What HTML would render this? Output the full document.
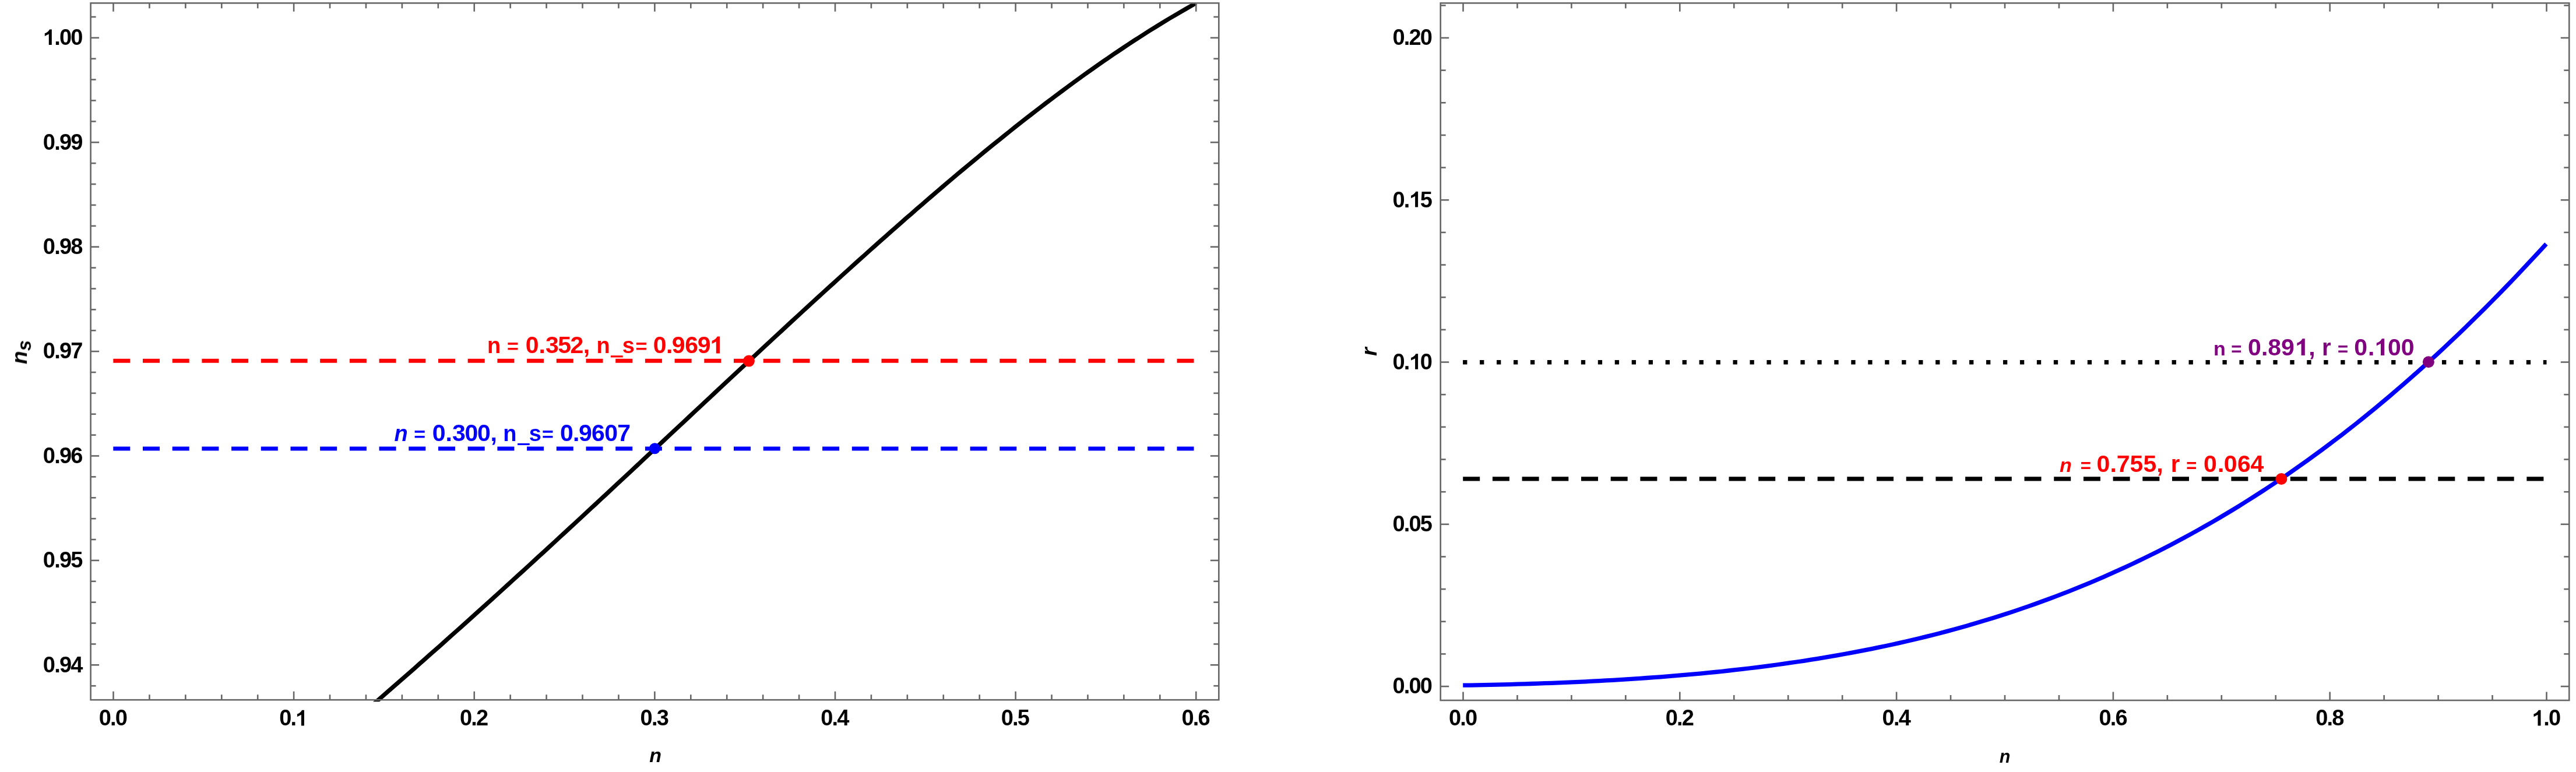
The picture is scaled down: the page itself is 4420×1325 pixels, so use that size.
<!DOCTYPE html>
<html><head><meta charset="utf-8"><style>
html,body{margin:0;padding:0;background:#fff;width:4420px;height:1325px;overflow:hidden;}
svg{display:block;}
</style></head><body>
<svg width="4420" height="1325" viewBox="0 0 4420 1325">
<g font-family="Liberation Sans" font-weight="bold" style="filter:grayscale(0)">
<text x="140.6" y="77.1" text-anchor="end" font-size="38.0" letter-spacing="-1.80" fill="#000">&#x2007;.00</text>
<text x="140.6" y="256.5" text-anchor="end" font-size="38.0" letter-spacing="-1.80" fill="#000">0.99</text>
<text x="140.6" y="435.9" text-anchor="end" font-size="38.0" letter-spacing="-1.80" fill="#000">0.98</text>
<text x="140.6" y="615.3" text-anchor="end" font-size="38.0" letter-spacing="-1.80" fill="#000">0.97</text>
<text x="140.6" y="794.7" text-anchor="end" font-size="38.0" letter-spacing="-1.80" fill="#000">0.96</text>
<text x="140.6" y="974.1" text-anchor="end" font-size="38.0" letter-spacing="-1.80" fill="#000">0.95</text>
<text x="140.6" y="1153.5" text-anchor="end" font-size="38.0" letter-spacing="-1.80" fill="#000">0.94</text>
<text x="193.4" y="1245.4" text-anchor="middle" font-size="38.0" letter-spacing="-1.80" fill="#000">0.0</text>
<text x="503.0" y="1245.4" text-anchor="middle" font-size="38.0" letter-spacing="-1.80" fill="#000">0.&#x2007;</text>
<text x="812.6" y="1245.4" text-anchor="middle" font-size="38.0" letter-spacing="-1.80" fill="#000">0.2</text>
<text x="1122.3" y="1245.4" text-anchor="middle" font-size="38.0" letter-spacing="-1.80" fill="#000">0.3</text>
<text x="1431.9" y="1245.4" text-anchor="middle" font-size="38.0" letter-spacing="-1.80" fill="#000">0.4</text>
<text x="1741.5" y="1245.4" text-anchor="middle" font-size="38.0" letter-spacing="-1.80" fill="#000">0.5</text>
<text x="2051.1" y="1245.4" text-anchor="middle" font-size="38.0" letter-spacing="-1.80" fill="#000">0.6</text>
<text x="2456.2" y="1190.3" text-anchor="end" font-size="38.0" letter-spacing="-1.80" fill="#000">0.00</text>
<text x="2456.2" y="912.0" text-anchor="end" font-size="38.0" letter-spacing="-1.80" fill="#000">0.05</text>
<text x="2456.2" y="633.7" text-anchor="end" font-size="38.0" letter-spacing="-1.80" fill="#000">0.&#x2007;0</text>
<text x="2456.2" y="355.5" text-anchor="end" font-size="38.0" letter-spacing="-1.80" fill="#000">0.&#x2007;5</text>
<text x="2456.2" y="77.2" text-anchor="end" font-size="38.0" letter-spacing="-1.80" fill="#000">0.20</text>
<text x="2509.7" y="1245.4" text-anchor="middle" font-size="38.0" letter-spacing="-1.80" fill="#000">0.0</text>
<text x="2881.5" y="1245.4" text-anchor="middle" font-size="38.0" letter-spacing="-1.80" fill="#000">0.2</text>
<text x="3253.3" y="1245.4" text-anchor="middle" font-size="38.0" letter-spacing="-1.80" fill="#000">0.4</text>
<text x="3625.1" y="1245.4" text-anchor="middle" font-size="38.0" letter-spacing="-1.80" fill="#000">0.6</text>
<text x="3996.9" y="1245.4" text-anchor="middle" font-size="38.0" letter-spacing="-1.80" fill="#000">0.8</text>
<text x="4368.7" y="1245.4" text-anchor="middle" font-size="38.0" letter-spacing="-1.80" fill="#000">&#x2007;.0</text>
<text x="1124.7" y="1307.7" text-anchor="middle" font-size="34" font-style="italic">n</text>
<text x="3440" y="1308.8" text-anchor="middle" font-size="30.5" font-style="italic">n</text>
<text transform="translate(46.1,604.5) rotate(-90)" text-anchor="middle" font-size="37" font-style="italic">n<tspan font-size="33" dy="7.4">s</tspan></text>
<text transform="translate(2362.4,603.7) rotate(-90)" text-anchor="middle" font-size="37.5" font-style="italic">r</text>
<text y="606.4" fill="#ff0000"><tspan x="836.0" font-size="38.0">n</tspan><tspan x="870.1" font-size="34.0">=</tspan><tspan x="901.8 924.6 935.9 957.3 978.5 1000.8" font-size="41.0">0.352,</tspan><tspan x="1023.5" font-size="38.0">n&#x2007;s</tspan><tspan x="1090.5" font-size="34.0">=</tspan><tspan x="1120.8 1143.0 1152.8 1175.2 1196.8 1217.3" font-size="41.0">0.969&#x2007;</tspan></text>
<text y="757.0" fill="#0000ff"><tspan x="676.4" font-size="38.0" font-style="italic">n</tspan><tspan x="710.2" font-size="34.0">=</tspan><tspan x="741.8 764.4 776.0 797.4 819.1 841.4" font-size="41.0">0.300,</tspan><tspan x="863.3" font-size="38.0">n&#x2007;s</tspan><tspan x="929.9" font-size="34.0">=</tspan><tspan x="961.1 982.9 993.1 1014.9 1037.3 1059.3" font-size="41.0">0.9607</tspan></text>
<text y="610.0" fill="#800080"><tspan x="3798.1" font-size="34.0">n</tspan><tspan x="3828.2" font-size="31.0">=</tspan><tspan x="3857.1" font-size="41.0">0</tspan><tspan font-size="41.0">.89&#x2007;</tspan><tspan x="3936.1 3961.3" font-size="41.0">&#x2007;,</tspan><tspan x="3983.9" font-size="40.0">r</tspan><tspan x="4010.9" font-size="31.0">=</tspan><tspan x="4039.3 4063.1 4072.5 4096.9 4119.8" font-size="41.0">0.&#x2007;00</tspan></text>
<text y="810.0" fill="#ff0000"><tspan x="3534.1" font-size="34.0" font-style="italic">n</tspan><tspan x="3569.8" font-size="31.0">=</tspan><tspan x="3597.6" font-size="41.0">0.755,</tspan><tspan x="3724.7" font-size="40.0">r</tspan><tspan x="3751.3" font-size="31.0">=</tspan><tspan x="3780.9 3805.0 3815.8 3838.9 3861.5" font-size="41.0">0.064</tspan></text>
</g>
<path d="M88.80 50.50 L88.80 77.10 L83.80 77.10 L83.80 58.48 L76.80 61.94 L76.80 57.28 Q82.20 55.82 85.08 50.50 Z" fill="#000"/>
<path d="M521.90 1218.80 L521.90 1245.40 L516.90 1245.40 L516.90 1226.78 L509.90 1230.24 L509.90 1225.58 Q515.30 1224.12 518.18 1218.80 Z" fill="#000"/>
<path d="M4359.50 1218.80 L4359.50 1245.40 L4354.50 1245.40 L4354.50 1226.78 L4347.50 1230.24 L4347.50 1225.58 Q4352.90 1224.12 4355.78 1218.80 Z" fill="#000"/>
<path d="M2433.10 607.15 L2433.10 633.75 L2428.10 633.75 L2428.10 615.13 L2421.10 618.59 L2421.10 613.93 Q2426.50 612.47 2429.38 607.15 Z" fill="#000"/>
<path d="M2433.10 328.87 L2433.10 355.47 L2428.10 355.47 L2428.10 336.85 L2421.10 340.31 L2421.10 335.66 Q2426.50 334.19 2429.38 328.87 Z" fill="#000"/>
<path d="M1235.00 577.60 L1235.00 606.40 L1228.80 606.40 L1228.80 586.24 L1221.60 589.98 L1221.60 584.94 Q1227.63 583.36 1230.85 577.60 Z" fill="#ff0000"/>
<path d="M3954.80 581.20 L3954.80 610.00 L3948.60 610.00 L3948.60 589.84 L3941.40 593.58 L3941.40 588.54 Q3947.43 586.96 3950.65 581.20 Z" fill="#800080"/>
<path d="M4091.20 581.20 L4091.20 610.00 L4085.00 610.00 L4085.00 589.84 L4077.80 593.58 L4077.80 588.54 Q4083.83 586.96 4087.05 581.20 Z" fill="#800080"/>
<rect x="1047.9" y="610.2" width="20.8" height="3.2" fill="#ff0000"/>
<rect x="888.1" y="760.8" width="20.6" height="3.2" fill="#0000ff"/>
<defs><clipPath id="clipL"><rect x="155.6" y="5.3" width="1935.7" height="1198.9"/></clipPath></defs>
<g>
<line x1="194.3" y1="619.3" x2="2052.2" y2="619.3" stroke="#ff0000" stroke-width="7" stroke-dasharray="29 21.7"/>
<line x1="194.3" y1="770.0" x2="2052.2" y2="770.0" stroke="#0000ff" stroke-width="7" stroke-dasharray="29 21.7"/>
<path d="M640.0 1209.2 L648.9 1201.5 L657.8 1193.8 L666.6 1186.1 L675.5 1178.3 L684.4 1170.5 L693.3 1162.8 L702.2 1155.0 L711.1 1147.2 L719.9 1139.3 L728.8 1131.5 L737.7 1123.6 L746.6 1115.8 L755.5 1107.9 L764.3 1100.0 L773.2 1092.1 L782.1 1084.1 L791.0 1076.2 L799.9 1068.2 L808.8 1060.2 L817.6 1052.2 L826.5 1044.2 L835.4 1036.2 L844.3 1028.2 L853.2 1020.1 L862.0 1012.1 L870.9 1004.0 L879.8 995.9 L888.7 987.8 L897.6 979.7 L906.5 971.6 L915.3 963.5 L924.2 955.3 L933.1 947.2 L942.0 939.0 L950.9 930.9 L959.7 922.7 L968.6 914.5 L977.5 906.3 L986.4 898.1 L995.3 889.9 L1004.2 881.6 L1013.0 873.4 L1021.9 865.2 L1030.8 856.9 L1039.7 848.7 L1048.6 840.4 L1057.4 832.1 L1066.3 823.9 L1075.2 815.6 L1084.1 807.3 L1093.0 799.0 L1101.9 790.7 L1110.7 782.4 L1119.6 774.1 L1128.5 765.8 L1137.4 757.5 L1146.3 749.2 L1155.1 740.9 L1164.0 732.6 L1172.9 724.3 L1181.8 716.0 L1190.7 707.7 L1199.6 699.4 L1208.4 691.1 L1217.3 682.8 L1226.2 674.5 L1235.1 666.2 L1244.0 657.9 L1252.8 649.7 L1261.7 641.4 L1270.6 633.1 L1279.5 624.8 L1288.4 616.6 L1297.3 608.3 L1306.1 600.1 L1315.0 591.8 L1323.9 583.6 L1332.8 575.4 L1341.7 567.2 L1350.5 559.0 L1359.4 550.8 L1368.3 542.6 L1377.2 534.4 L1386.1 526.3 L1394.9 518.1 L1403.8 510.0 L1412.7 501.9 L1421.6 493.8 L1430.5 485.7 L1439.4 477.6 L1448.2 469.6 L1457.1 461.6 L1466.0 453.5 L1474.9 445.6 L1483.8 437.6 L1492.6 429.6 L1501.5 421.7 L1510.4 413.8 L1519.3 405.9 L1528.2 398.0 L1537.1 390.2 L1545.9 382.4 L1554.8 374.6 L1563.7 366.9 L1572.6 359.1 L1581.5 351.4 L1590.3 343.7 L1599.2 336.1 L1608.1 328.5 L1617.0 320.9 L1625.9 313.3 L1634.8 305.8 L1643.6 298.3 L1652.5 290.9 L1661.4 283.5 L1670.3 276.1 L1679.2 268.7 L1688.0 261.4 L1696.9 254.2 L1705.8 246.9 L1714.7 239.8 L1723.6 232.6 L1732.5 225.5 L1741.3 218.4 L1750.2 211.4 L1759.1 204.4 L1768.0 197.5 L1776.9 190.6 L1785.7 183.8 L1794.6 177.0 L1803.5 170.3 L1812.4 163.6 L1821.3 157.0 L1830.2 150.4 L1839.0 143.8 L1847.9 137.4 L1856.8 130.9 L1865.7 124.6 L1874.6 118.2 L1883.4 112.0 L1892.3 105.8 L1901.2 99.7 L1910.1 93.6 L1919.0 87.6 L1927.9 81.6 L1936.7 75.7 L1945.6 69.9 L1954.5 64.2 L1963.4 58.5 L1972.3 52.8 L1981.1 47.3 L1990.0 41.8 L1998.9 36.4 L2007.8 31.0 L2016.7 25.8 L2025.6 20.6 L2034.4 15.5 L2043.3 10.4 L2052.2 5.4" fill="none" stroke="#000" stroke-width="7.3" clip-path="url(#clipL)"/>
<circle cx="1284.9" cy="619.6" r="10" fill="#ff0000"/>
<circle cx="1123.5" cy="769.8" r="9.5" fill="#0000ff"/>
<line x1="2510.1" y1="621.75" x2="4369.5" y2="621.75" stroke="#000" stroke-width="7.3" stroke-dasharray="7.3 21.664"/>
<line x1="2510.2" y1="821.8" x2="4369.5" y2="821.8" stroke="#000" stroke-width="7.3" stroke-dasharray="29 21.7"/>
<path d="M2510.2 1176.2 L2521.9 1176.1 L2533.6 1175.9 L2545.3 1175.6 L2557.0 1175.4 L2568.6 1175.1 L2580.3 1174.9 L2592.0 1174.6 L2603.7 1174.2 L2615.4 1173.9 L2627.1 1173.5 L2638.8 1173.1 L2650.5 1172.7 L2662.2 1172.3 L2673.9 1171.8 L2685.5 1171.4 L2697.2 1170.9 L2708.9 1170.3 L2720.6 1169.8 L2732.3 1169.2 L2744.0 1168.6 L2755.7 1167.9 L2767.4 1167.3 L2779.1 1166.6 L2790.8 1165.9 L2802.4 1165.1 L2814.1 1164.3 L2825.8 1163.5 L2837.5 1162.7 L2849.2 1161.8 L2860.9 1160.9 L2872.6 1159.9 L2884.3 1158.9 L2896.0 1157.9 L2907.7 1156.9 L2919.3 1155.8 L2931.0 1154.6 L2942.7 1153.5 L2954.4 1152.3 L2966.1 1151.0 L2977.8 1149.7 L2989.5 1148.4 L3001.2 1147.0 L3012.9 1145.6 L3024.6 1144.1 L3036.2 1142.6 L3047.9 1141.0 L3059.6 1139.4 L3071.3 1137.7 L3083.0 1136.0 L3094.7 1134.3 L3106.4 1132.4 L3118.1 1130.6 L3129.8 1128.6 L3141.5 1126.7 L3153.1 1124.6 L3164.8 1122.5 L3176.5 1120.4 L3188.2 1118.2 L3199.9 1115.9 L3211.6 1113.6 L3223.3 1111.2 L3235.0 1108.7 L3246.7 1106.2 L3258.4 1103.6 L3270.0 1101.0 L3281.7 1098.2 L3293.4 1095.5 L3305.1 1092.6 L3316.8 1089.7 L3328.5 1086.7 L3340.2 1083.6 L3351.9 1080.4 L3363.6 1077.2 L3375.3 1073.9 L3386.9 1070.5 L3398.6 1067.1 L3410.3 1063.5 L3422.0 1059.9 L3433.7 1056.2 L3445.4 1052.5 L3457.1 1048.6 L3468.8 1044.6 L3480.5 1040.6 L3492.2 1036.5 L3503.8 1032.3 L3515.5 1028.0 L3527.2 1023.6 L3538.9 1019.1 L3550.6 1014.6 L3562.3 1009.9 L3574.0 1005.2 L3585.7 1000.3 L3597.4 995.4 L3609.1 990.3 L3620.7 985.2 L3632.4 979.9 L3644.1 974.6 L3655.8 969.2 L3667.5 963.6 L3679.2 958.0 L3690.9 952.3 L3702.6 946.4 L3714.3 940.5 L3726.0 934.4 L3737.6 928.2 L3749.3 922.0 L3761.0 915.6 L3772.7 909.1 L3784.4 902.5 L3796.1 895.8 L3807.8 889.0 L3819.5 882.0 L3831.2 875.0 L3842.9 867.8 L3854.5 860.5 L3866.2 853.2 L3877.9 845.6 L3889.6 838.0 L3901.3 830.3 L3913.0 822.4 L3924.7 814.4 L3936.4 806.3 L3948.1 798.1 L3959.8 789.8 L3971.4 781.3 L3983.1 772.7 L3994.8 764.0 L4006.5 755.2 L4018.2 746.3 L4029.9 737.2 L4041.6 728.0 L4053.3 718.6 L4065.0 709.2 L4076.7 699.6 L4088.3 689.9 L4100.0 680.1 L4111.7 670.1 L4123.4 660.1 L4135.1 649.8 L4146.8 639.5 L4158.5 629.0 L4170.2 618.4 L4181.9 607.7 L4193.6 596.9 L4205.2 585.9 L4216.9 574.8 L4228.6 563.6 L4240.3 552.2 L4252.0 540.7 L4263.7 529.1 L4275.4 517.3 L4287.1 505.4 L4298.8 493.4 L4310.5 481.3 L4322.1 469.0 L4333.8 456.6 L4345.5 444.1 L4357.2 431.5 L4368.9 418.7" fill="none" stroke="#0000ff" stroke-width="7.3"/>
<circle cx="3914.4" cy="822.0" r="10" fill="#ff0000"/>
<circle cx="4166.9" cy="621.3" r="10" fill="#800080"/>
</g>
<g>
<line x1="194.50" y1="1201.20" x2="194.50" y2="1186.70" stroke="#666666" stroke-width="2.60"/>
<line x1="194.50" y1="5.30" x2="194.50" y2="19.80" stroke="#666666" stroke-width="2.60"/>
<line x1="256.42" y1="1201.20" x2="256.42" y2="1192.20" stroke="#666666" stroke-width="2.60"/>
<line x1="256.42" y1="5.30" x2="256.42" y2="14.30" stroke="#666666" stroke-width="2.60"/>
<line x1="318.35" y1="1201.20" x2="318.35" y2="1192.20" stroke="#666666" stroke-width="2.60"/>
<line x1="318.35" y1="5.30" x2="318.35" y2="14.30" stroke="#666666" stroke-width="2.60"/>
<line x1="380.27" y1="1201.20" x2="380.27" y2="1192.20" stroke="#666666" stroke-width="2.60"/>
<line x1="380.27" y1="5.30" x2="380.27" y2="14.30" stroke="#666666" stroke-width="2.60"/>
<line x1="442.20" y1="1201.20" x2="442.20" y2="1192.20" stroke="#666666" stroke-width="2.60"/>
<line x1="442.20" y1="5.30" x2="442.20" y2="14.30" stroke="#666666" stroke-width="2.60"/>
<line x1="504.12" y1="1201.20" x2="504.12" y2="1186.70" stroke="#666666" stroke-width="2.60"/>
<line x1="504.12" y1="5.30" x2="504.12" y2="19.80" stroke="#666666" stroke-width="2.60"/>
<line x1="566.04" y1="1201.20" x2="566.04" y2="1192.20" stroke="#666666" stroke-width="2.60"/>
<line x1="566.04" y1="5.30" x2="566.04" y2="14.30" stroke="#666666" stroke-width="2.60"/>
<line x1="627.97" y1="1201.20" x2="627.97" y2="1192.20" stroke="#666666" stroke-width="2.60"/>
<line x1="627.97" y1="5.30" x2="627.97" y2="14.30" stroke="#666666" stroke-width="2.60"/>
<line x1="689.89" y1="1201.20" x2="689.89" y2="1192.20" stroke="#666666" stroke-width="2.60"/>
<line x1="689.89" y1="5.30" x2="689.89" y2="14.30" stroke="#666666" stroke-width="2.60"/>
<line x1="751.82" y1="1201.20" x2="751.82" y2="1192.20" stroke="#666666" stroke-width="2.60"/>
<line x1="751.82" y1="5.30" x2="751.82" y2="14.30" stroke="#666666" stroke-width="2.60"/>
<line x1="813.74" y1="1201.20" x2="813.74" y2="1186.70" stroke="#666666" stroke-width="2.60"/>
<line x1="813.74" y1="5.30" x2="813.74" y2="19.80" stroke="#666666" stroke-width="2.60"/>
<line x1="875.66" y1="1201.20" x2="875.66" y2="1192.20" stroke="#666666" stroke-width="2.60"/>
<line x1="875.66" y1="5.30" x2="875.66" y2="14.30" stroke="#666666" stroke-width="2.60"/>
<line x1="937.59" y1="1201.20" x2="937.59" y2="1192.20" stroke="#666666" stroke-width="2.60"/>
<line x1="937.59" y1="5.30" x2="937.59" y2="14.30" stroke="#666666" stroke-width="2.60"/>
<line x1="999.51" y1="1201.20" x2="999.51" y2="1192.20" stroke="#666666" stroke-width="2.60"/>
<line x1="999.51" y1="5.30" x2="999.51" y2="14.30" stroke="#666666" stroke-width="2.60"/>
<line x1="1061.44" y1="1201.20" x2="1061.44" y2="1192.20" stroke="#666666" stroke-width="2.60"/>
<line x1="1061.44" y1="5.30" x2="1061.44" y2="14.30" stroke="#666666" stroke-width="2.60"/>
<line x1="1123.36" y1="1201.20" x2="1123.36" y2="1186.70" stroke="#666666" stroke-width="2.60"/>
<line x1="1123.36" y1="5.30" x2="1123.36" y2="19.80" stroke="#666666" stroke-width="2.60"/>
<line x1="1185.28" y1="1201.20" x2="1185.28" y2="1192.20" stroke="#666666" stroke-width="2.60"/>
<line x1="1185.28" y1="5.30" x2="1185.28" y2="14.30" stroke="#666666" stroke-width="2.60"/>
<line x1="1247.21" y1="1201.20" x2="1247.21" y2="1192.20" stroke="#666666" stroke-width="2.60"/>
<line x1="1247.21" y1="5.30" x2="1247.21" y2="14.30" stroke="#666666" stroke-width="2.60"/>
<line x1="1309.13" y1="1201.20" x2="1309.13" y2="1192.20" stroke="#666666" stroke-width="2.60"/>
<line x1="1309.13" y1="5.30" x2="1309.13" y2="14.30" stroke="#666666" stroke-width="2.60"/>
<line x1="1371.06" y1="1201.20" x2="1371.06" y2="1192.20" stroke="#666666" stroke-width="2.60"/>
<line x1="1371.06" y1="5.30" x2="1371.06" y2="14.30" stroke="#666666" stroke-width="2.60"/>
<line x1="1432.98" y1="1201.20" x2="1432.98" y2="1186.70" stroke="#666666" stroke-width="2.60"/>
<line x1="1432.98" y1="5.30" x2="1432.98" y2="19.80" stroke="#666666" stroke-width="2.60"/>
<line x1="1494.90" y1="1201.20" x2="1494.90" y2="1192.20" stroke="#666666" stroke-width="2.60"/>
<line x1="1494.90" y1="5.30" x2="1494.90" y2="14.30" stroke="#666666" stroke-width="2.60"/>
<line x1="1556.83" y1="1201.20" x2="1556.83" y2="1192.20" stroke="#666666" stroke-width="2.60"/>
<line x1="1556.83" y1="5.30" x2="1556.83" y2="14.30" stroke="#666666" stroke-width="2.60"/>
<line x1="1618.75" y1="1201.20" x2="1618.75" y2="1192.20" stroke="#666666" stroke-width="2.60"/>
<line x1="1618.75" y1="5.30" x2="1618.75" y2="14.30" stroke="#666666" stroke-width="2.60"/>
<line x1="1680.68" y1="1201.20" x2="1680.68" y2="1192.20" stroke="#666666" stroke-width="2.60"/>
<line x1="1680.68" y1="5.30" x2="1680.68" y2="14.30" stroke="#666666" stroke-width="2.60"/>
<line x1="1742.60" y1="1201.20" x2="1742.60" y2="1186.70" stroke="#666666" stroke-width="2.60"/>
<line x1="1742.60" y1="5.30" x2="1742.60" y2="19.80" stroke="#666666" stroke-width="2.60"/>
<line x1="1804.52" y1="1201.20" x2="1804.52" y2="1192.20" stroke="#666666" stroke-width="2.60"/>
<line x1="1804.52" y1="5.30" x2="1804.52" y2="14.30" stroke="#666666" stroke-width="2.60"/>
<line x1="1866.45" y1="1201.20" x2="1866.45" y2="1192.20" stroke="#666666" stroke-width="2.60"/>
<line x1="1866.45" y1="5.30" x2="1866.45" y2="14.30" stroke="#666666" stroke-width="2.60"/>
<line x1="1928.37" y1="1201.20" x2="1928.37" y2="1192.20" stroke="#666666" stroke-width="2.60"/>
<line x1="1928.37" y1="5.30" x2="1928.37" y2="14.30" stroke="#666666" stroke-width="2.60"/>
<line x1="1990.30" y1="1201.20" x2="1990.30" y2="1192.20" stroke="#666666" stroke-width="2.60"/>
<line x1="1990.30" y1="5.30" x2="1990.30" y2="14.30" stroke="#666666" stroke-width="2.60"/>
<line x1="2052.22" y1="1201.20" x2="2052.22" y2="1186.70" stroke="#666666" stroke-width="2.60"/>
<line x1="2052.22" y1="5.30" x2="2052.22" y2="19.80" stroke="#666666" stroke-width="2.60"/>
<line x1="155.60" y1="1177.18" x2="164.60" y2="1177.18" stroke="#666666" stroke-width="2.60"/>
<line x1="2091.30" y1="1177.18" x2="2082.30" y2="1177.18" stroke="#666666" stroke-width="2.60"/>
<line x1="155.60" y1="1141.30" x2="170.10" y2="1141.30" stroke="#666666" stroke-width="2.60"/>
<line x1="2091.30" y1="1141.30" x2="2076.80" y2="1141.30" stroke="#666666" stroke-width="2.60"/>
<line x1="155.60" y1="1105.42" x2="164.60" y2="1105.42" stroke="#666666" stroke-width="2.60"/>
<line x1="2091.30" y1="1105.42" x2="2082.30" y2="1105.42" stroke="#666666" stroke-width="2.60"/>
<line x1="155.60" y1="1069.54" x2="164.60" y2="1069.54" stroke="#666666" stroke-width="2.60"/>
<line x1="2091.30" y1="1069.54" x2="2082.30" y2="1069.54" stroke="#666666" stroke-width="2.60"/>
<line x1="155.60" y1="1033.66" x2="164.60" y2="1033.66" stroke="#666666" stroke-width="2.60"/>
<line x1="2091.30" y1="1033.66" x2="2082.30" y2="1033.66" stroke="#666666" stroke-width="2.60"/>
<line x1="155.60" y1="997.78" x2="164.60" y2="997.78" stroke="#666666" stroke-width="2.60"/>
<line x1="2091.30" y1="997.78" x2="2082.30" y2="997.78" stroke="#666666" stroke-width="2.60"/>
<line x1="155.60" y1="961.90" x2="170.10" y2="961.90" stroke="#666666" stroke-width="2.60"/>
<line x1="2091.30" y1="961.90" x2="2076.80" y2="961.90" stroke="#666666" stroke-width="2.60"/>
<line x1="155.60" y1="926.02" x2="164.60" y2="926.02" stroke="#666666" stroke-width="2.60"/>
<line x1="2091.30" y1="926.02" x2="2082.30" y2="926.02" stroke="#666666" stroke-width="2.60"/>
<line x1="155.60" y1="890.14" x2="164.60" y2="890.14" stroke="#666666" stroke-width="2.60"/>
<line x1="2091.30" y1="890.14" x2="2082.30" y2="890.14" stroke="#666666" stroke-width="2.60"/>
<line x1="155.60" y1="854.26" x2="164.60" y2="854.26" stroke="#666666" stroke-width="2.60"/>
<line x1="2091.30" y1="854.26" x2="2082.30" y2="854.26" stroke="#666666" stroke-width="2.60"/>
<line x1="155.60" y1="818.38" x2="164.60" y2="818.38" stroke="#666666" stroke-width="2.60"/>
<line x1="2091.30" y1="818.38" x2="2082.30" y2="818.38" stroke="#666666" stroke-width="2.60"/>
<line x1="155.60" y1="782.50" x2="170.10" y2="782.50" stroke="#666666" stroke-width="2.60"/>
<line x1="2091.30" y1="782.50" x2="2076.80" y2="782.50" stroke="#666666" stroke-width="2.60"/>
<line x1="155.60" y1="746.62" x2="164.60" y2="746.62" stroke="#666666" stroke-width="2.60"/>
<line x1="2091.30" y1="746.62" x2="2082.30" y2="746.62" stroke="#666666" stroke-width="2.60"/>
<line x1="155.60" y1="710.74" x2="164.60" y2="710.74" stroke="#666666" stroke-width="2.60"/>
<line x1="2091.30" y1="710.74" x2="2082.30" y2="710.74" stroke="#666666" stroke-width="2.60"/>
<line x1="155.60" y1="674.86" x2="164.60" y2="674.86" stroke="#666666" stroke-width="2.60"/>
<line x1="2091.30" y1="674.86" x2="2082.30" y2="674.86" stroke="#666666" stroke-width="2.60"/>
<line x1="155.60" y1="638.98" x2="164.60" y2="638.98" stroke="#666666" stroke-width="2.60"/>
<line x1="2091.30" y1="638.98" x2="2082.30" y2="638.98" stroke="#666666" stroke-width="2.60"/>
<line x1="155.60" y1="603.10" x2="170.10" y2="603.10" stroke="#666666" stroke-width="2.60"/>
<line x1="2091.30" y1="603.10" x2="2076.80" y2="603.10" stroke="#666666" stroke-width="2.60"/>
<line x1="155.60" y1="567.22" x2="164.60" y2="567.22" stroke="#666666" stroke-width="2.60"/>
<line x1="2091.30" y1="567.22" x2="2082.30" y2="567.22" stroke="#666666" stroke-width="2.60"/>
<line x1="155.60" y1="531.34" x2="164.60" y2="531.34" stroke="#666666" stroke-width="2.60"/>
<line x1="2091.30" y1="531.34" x2="2082.30" y2="531.34" stroke="#666666" stroke-width="2.60"/>
<line x1="155.60" y1="495.46" x2="164.60" y2="495.46" stroke="#666666" stroke-width="2.60"/>
<line x1="2091.30" y1="495.46" x2="2082.30" y2="495.46" stroke="#666666" stroke-width="2.60"/>
<line x1="155.60" y1="459.58" x2="164.60" y2="459.58" stroke="#666666" stroke-width="2.60"/>
<line x1="2091.30" y1="459.58" x2="2082.30" y2="459.58" stroke="#666666" stroke-width="2.60"/>
<line x1="155.60" y1="423.70" x2="170.10" y2="423.70" stroke="#666666" stroke-width="2.60"/>
<line x1="2091.30" y1="423.70" x2="2076.80" y2="423.70" stroke="#666666" stroke-width="2.60"/>
<line x1="155.60" y1="387.82" x2="164.60" y2="387.82" stroke="#666666" stroke-width="2.60"/>
<line x1="2091.30" y1="387.82" x2="2082.30" y2="387.82" stroke="#666666" stroke-width="2.60"/>
<line x1="155.60" y1="351.94" x2="164.60" y2="351.94" stroke="#666666" stroke-width="2.60"/>
<line x1="2091.30" y1="351.94" x2="2082.30" y2="351.94" stroke="#666666" stroke-width="2.60"/>
<line x1="155.60" y1="316.06" x2="164.60" y2="316.06" stroke="#666666" stroke-width="2.60"/>
<line x1="2091.30" y1="316.06" x2="2082.30" y2="316.06" stroke="#666666" stroke-width="2.60"/>
<line x1="155.60" y1="280.18" x2="164.60" y2="280.18" stroke="#666666" stroke-width="2.60"/>
<line x1="2091.30" y1="280.18" x2="2082.30" y2="280.18" stroke="#666666" stroke-width="2.60"/>
<line x1="155.60" y1="244.30" x2="170.10" y2="244.30" stroke="#666666" stroke-width="2.60"/>
<line x1="2091.30" y1="244.30" x2="2076.80" y2="244.30" stroke="#666666" stroke-width="2.60"/>
<line x1="155.60" y1="208.42" x2="164.60" y2="208.42" stroke="#666666" stroke-width="2.60"/>
<line x1="2091.30" y1="208.42" x2="2082.30" y2="208.42" stroke="#666666" stroke-width="2.60"/>
<line x1="155.60" y1="172.54" x2="164.60" y2="172.54" stroke="#666666" stroke-width="2.60"/>
<line x1="2091.30" y1="172.54" x2="2082.30" y2="172.54" stroke="#666666" stroke-width="2.60"/>
<line x1="155.60" y1="136.66" x2="164.60" y2="136.66" stroke="#666666" stroke-width="2.60"/>
<line x1="2091.30" y1="136.66" x2="2082.30" y2="136.66" stroke="#666666" stroke-width="2.60"/>
<line x1="155.60" y1="100.78" x2="164.60" y2="100.78" stroke="#666666" stroke-width="2.60"/>
<line x1="2091.30" y1="100.78" x2="2082.30" y2="100.78" stroke="#666666" stroke-width="2.60"/>
<line x1="155.60" y1="64.90" x2="170.10" y2="64.90" stroke="#666666" stroke-width="2.60"/>
<line x1="2091.30" y1="64.90" x2="2076.80" y2="64.90" stroke="#666666" stroke-width="2.60"/>
<line x1="155.60" y1="29.02" x2="164.60" y2="29.02" stroke="#666666" stroke-width="2.60"/>
<line x1="2091.30" y1="29.02" x2="2082.30" y2="29.02" stroke="#666666" stroke-width="2.60"/>
<rect x="155.60" y="5.30" width="1935.70" height="1195.90" fill="none" stroke="#666666" stroke-width="2.60"/>
<line x1="2510.50" y1="1202.00" x2="2510.50" y2="1187.50" stroke="#666666" stroke-width="2.60"/>
<line x1="2510.50" y1="5.30" x2="2510.50" y2="19.80" stroke="#666666" stroke-width="2.60"/>
<line x1="2603.45" y1="1202.00" x2="2603.45" y2="1193.00" stroke="#666666" stroke-width="2.60"/>
<line x1="2603.45" y1="5.30" x2="2603.45" y2="14.30" stroke="#666666" stroke-width="2.60"/>
<line x1="2696.40" y1="1202.00" x2="2696.40" y2="1193.00" stroke="#666666" stroke-width="2.60"/>
<line x1="2696.40" y1="5.30" x2="2696.40" y2="14.30" stroke="#666666" stroke-width="2.60"/>
<line x1="2789.35" y1="1202.00" x2="2789.35" y2="1193.00" stroke="#666666" stroke-width="2.60"/>
<line x1="2789.35" y1="5.30" x2="2789.35" y2="14.30" stroke="#666666" stroke-width="2.60"/>
<line x1="2882.30" y1="1202.00" x2="2882.30" y2="1187.50" stroke="#666666" stroke-width="2.60"/>
<line x1="2882.30" y1="5.30" x2="2882.30" y2="19.80" stroke="#666666" stroke-width="2.60"/>
<line x1="2975.25" y1="1202.00" x2="2975.25" y2="1193.00" stroke="#666666" stroke-width="2.60"/>
<line x1="2975.25" y1="5.30" x2="2975.25" y2="14.30" stroke="#666666" stroke-width="2.60"/>
<line x1="3068.20" y1="1202.00" x2="3068.20" y2="1193.00" stroke="#666666" stroke-width="2.60"/>
<line x1="3068.20" y1="5.30" x2="3068.20" y2="14.30" stroke="#666666" stroke-width="2.60"/>
<line x1="3161.15" y1="1202.00" x2="3161.15" y2="1193.00" stroke="#666666" stroke-width="2.60"/>
<line x1="3161.15" y1="5.30" x2="3161.15" y2="14.30" stroke="#666666" stroke-width="2.60"/>
<line x1="3254.10" y1="1202.00" x2="3254.10" y2="1187.50" stroke="#666666" stroke-width="2.60"/>
<line x1="3254.10" y1="5.30" x2="3254.10" y2="19.80" stroke="#666666" stroke-width="2.60"/>
<line x1="3347.05" y1="1202.00" x2="3347.05" y2="1193.00" stroke="#666666" stroke-width="2.60"/>
<line x1="3347.05" y1="5.30" x2="3347.05" y2="14.30" stroke="#666666" stroke-width="2.60"/>
<line x1="3440.00" y1="1202.00" x2="3440.00" y2="1193.00" stroke="#666666" stroke-width="2.60"/>
<line x1="3440.00" y1="5.30" x2="3440.00" y2="14.30" stroke="#666666" stroke-width="2.60"/>
<line x1="3532.95" y1="1202.00" x2="3532.95" y2="1193.00" stroke="#666666" stroke-width="2.60"/>
<line x1="3532.95" y1="5.30" x2="3532.95" y2="14.30" stroke="#666666" stroke-width="2.60"/>
<line x1="3625.90" y1="1202.00" x2="3625.90" y2="1187.50" stroke="#666666" stroke-width="2.60"/>
<line x1="3625.90" y1="5.30" x2="3625.90" y2="19.80" stroke="#666666" stroke-width="2.60"/>
<line x1="3718.85" y1="1202.00" x2="3718.85" y2="1193.00" stroke="#666666" stroke-width="2.60"/>
<line x1="3718.85" y1="5.30" x2="3718.85" y2="14.30" stroke="#666666" stroke-width="2.60"/>
<line x1="3811.80" y1="1202.00" x2="3811.80" y2="1193.00" stroke="#666666" stroke-width="2.60"/>
<line x1="3811.80" y1="5.30" x2="3811.80" y2="14.30" stroke="#666666" stroke-width="2.60"/>
<line x1="3904.75" y1="1202.00" x2="3904.75" y2="1193.00" stroke="#666666" stroke-width="2.60"/>
<line x1="3904.75" y1="5.30" x2="3904.75" y2="14.30" stroke="#666666" stroke-width="2.60"/>
<line x1="3997.70" y1="1202.00" x2="3997.70" y2="1187.50" stroke="#666666" stroke-width="2.60"/>
<line x1="3997.70" y1="5.30" x2="3997.70" y2="19.80" stroke="#666666" stroke-width="2.60"/>
<line x1="4090.65" y1="1202.00" x2="4090.65" y2="1193.00" stroke="#666666" stroke-width="2.60"/>
<line x1="4090.65" y1="5.30" x2="4090.65" y2="14.30" stroke="#666666" stroke-width="2.60"/>
<line x1="4183.60" y1="1202.00" x2="4183.60" y2="1193.00" stroke="#666666" stroke-width="2.60"/>
<line x1="4183.60" y1="5.30" x2="4183.60" y2="14.30" stroke="#666666" stroke-width="2.60"/>
<line x1="4276.55" y1="1202.00" x2="4276.55" y2="1193.00" stroke="#666666" stroke-width="2.60"/>
<line x1="4276.55" y1="5.30" x2="4276.55" y2="14.30" stroke="#666666" stroke-width="2.60"/>
<line x1="4369.50" y1="1202.00" x2="4369.50" y2="1187.50" stroke="#666666" stroke-width="2.60"/>
<line x1="4369.50" y1="5.30" x2="4369.50" y2="19.80" stroke="#666666" stroke-width="2.60"/>
<line x1="2471.70" y1="1178.10" x2="2486.20" y2="1178.10" stroke="#666666" stroke-width="2.60"/>
<line x1="4408.30" y1="1178.10" x2="4393.80" y2="1178.10" stroke="#666666" stroke-width="2.60"/>
<line x1="2471.70" y1="1122.44" x2="2480.70" y2="1122.44" stroke="#666666" stroke-width="2.60"/>
<line x1="4408.30" y1="1122.44" x2="4399.30" y2="1122.44" stroke="#666666" stroke-width="2.60"/>
<line x1="2471.70" y1="1066.79" x2="2480.70" y2="1066.79" stroke="#666666" stroke-width="2.60"/>
<line x1="4408.30" y1="1066.79" x2="4399.30" y2="1066.79" stroke="#666666" stroke-width="2.60"/>
<line x1="2471.70" y1="1011.13" x2="2480.70" y2="1011.13" stroke="#666666" stroke-width="2.60"/>
<line x1="4408.30" y1="1011.13" x2="4399.30" y2="1011.13" stroke="#666666" stroke-width="2.60"/>
<line x1="2471.70" y1="955.48" x2="2480.70" y2="955.48" stroke="#666666" stroke-width="2.60"/>
<line x1="4408.30" y1="955.48" x2="4399.30" y2="955.48" stroke="#666666" stroke-width="2.60"/>
<line x1="2471.70" y1="899.82" x2="2486.20" y2="899.82" stroke="#666666" stroke-width="2.60"/>
<line x1="4408.30" y1="899.82" x2="4393.80" y2="899.82" stroke="#666666" stroke-width="2.60"/>
<line x1="2471.70" y1="844.17" x2="2480.70" y2="844.17" stroke="#666666" stroke-width="2.60"/>
<line x1="4408.30" y1="844.17" x2="4399.30" y2="844.17" stroke="#666666" stroke-width="2.60"/>
<line x1="2471.70" y1="788.51" x2="2480.70" y2="788.51" stroke="#666666" stroke-width="2.60"/>
<line x1="4408.30" y1="788.51" x2="4399.30" y2="788.51" stroke="#666666" stroke-width="2.60"/>
<line x1="2471.70" y1="732.86" x2="2480.70" y2="732.86" stroke="#666666" stroke-width="2.60"/>
<line x1="4408.30" y1="732.86" x2="4399.30" y2="732.86" stroke="#666666" stroke-width="2.60"/>
<line x1="2471.70" y1="677.20" x2="2480.70" y2="677.20" stroke="#666666" stroke-width="2.60"/>
<line x1="4408.30" y1="677.20" x2="4399.30" y2="677.20" stroke="#666666" stroke-width="2.60"/>
<line x1="2471.70" y1="621.55" x2="2486.20" y2="621.55" stroke="#666666" stroke-width="2.60"/>
<line x1="4408.30" y1="621.55" x2="4393.80" y2="621.55" stroke="#666666" stroke-width="2.60"/>
<line x1="2471.70" y1="565.89" x2="2480.70" y2="565.89" stroke="#666666" stroke-width="2.60"/>
<line x1="4408.30" y1="565.89" x2="4399.30" y2="565.89" stroke="#666666" stroke-width="2.60"/>
<line x1="2471.70" y1="510.24" x2="2480.70" y2="510.24" stroke="#666666" stroke-width="2.60"/>
<line x1="4408.30" y1="510.24" x2="4399.30" y2="510.24" stroke="#666666" stroke-width="2.60"/>
<line x1="2471.70" y1="454.58" x2="2480.70" y2="454.58" stroke="#666666" stroke-width="2.60"/>
<line x1="4408.30" y1="454.58" x2="4399.30" y2="454.58" stroke="#666666" stroke-width="2.60"/>
<line x1="2471.70" y1="398.93" x2="2480.70" y2="398.93" stroke="#666666" stroke-width="2.60"/>
<line x1="4408.30" y1="398.93" x2="4399.30" y2="398.93" stroke="#666666" stroke-width="2.60"/>
<line x1="2471.70" y1="343.27" x2="2486.20" y2="343.27" stroke="#666666" stroke-width="2.60"/>
<line x1="4408.30" y1="343.27" x2="4393.80" y2="343.27" stroke="#666666" stroke-width="2.60"/>
<line x1="2471.70" y1="287.62" x2="2480.70" y2="287.62" stroke="#666666" stroke-width="2.60"/>
<line x1="4408.30" y1="287.62" x2="4399.30" y2="287.62" stroke="#666666" stroke-width="2.60"/>
<line x1="2471.70" y1="231.96" x2="2480.70" y2="231.96" stroke="#666666" stroke-width="2.60"/>
<line x1="4408.30" y1="231.96" x2="4399.30" y2="231.96" stroke="#666666" stroke-width="2.60"/>
<line x1="2471.70" y1="176.31" x2="2480.70" y2="176.31" stroke="#666666" stroke-width="2.60"/>
<line x1="4408.30" y1="176.31" x2="4399.30" y2="176.31" stroke="#666666" stroke-width="2.60"/>
<line x1="2471.70" y1="120.65" x2="2480.70" y2="120.65" stroke="#666666" stroke-width="2.60"/>
<line x1="4408.30" y1="120.65" x2="4399.30" y2="120.65" stroke="#666666" stroke-width="2.60"/>
<line x1="2471.70" y1="65.00" x2="2486.20" y2="65.00" stroke="#666666" stroke-width="2.60"/>
<line x1="4408.30" y1="65.00" x2="4393.80" y2="65.00" stroke="#666666" stroke-width="2.60"/>
<line x1="2471.70" y1="9.35" x2="2480.70" y2="9.35" stroke="#666666" stroke-width="2.60"/>
<line x1="4408.30" y1="9.35" x2="4399.30" y2="9.35" stroke="#666666" stroke-width="2.60"/>
<rect x="2471.70" y="5.30" width="1936.60" height="1196.70" fill="none" stroke="#666666" stroke-width="2.60"/>
</g>
</svg>
</body></html>
